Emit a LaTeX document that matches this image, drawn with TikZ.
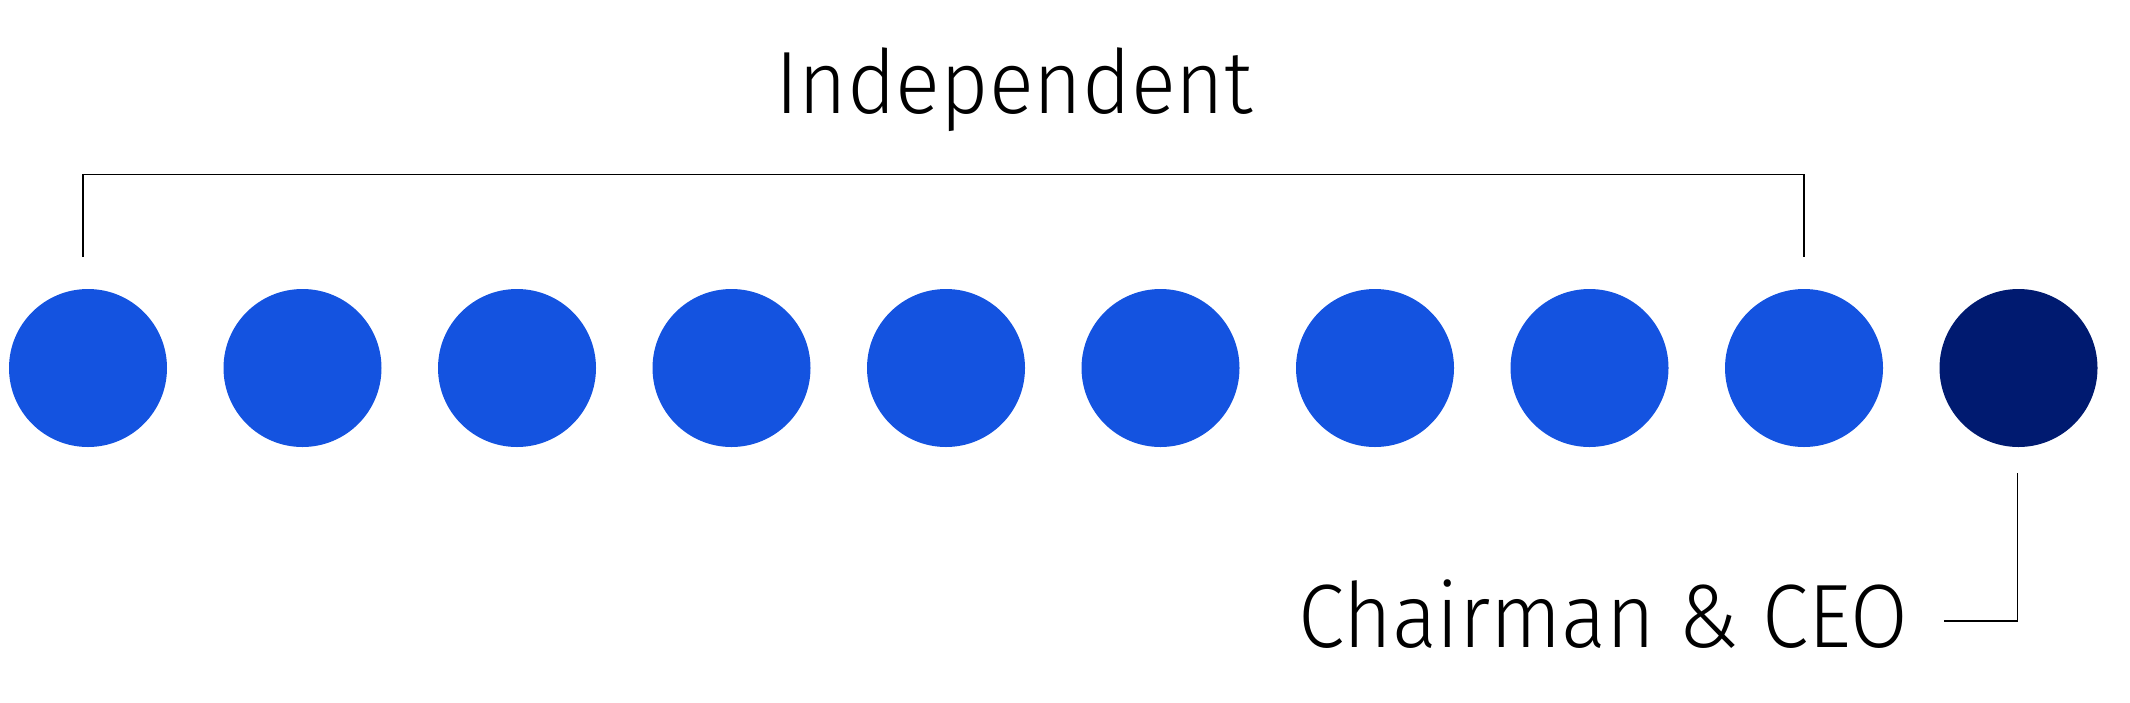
\documentclass[tikz,border=0pt]{standalone}
\usepackage{fontspec}
\usepackage{graphicx}
\setmainfont{Fira Sans Light}
\definecolor{dotblue}{HTML}{1453E0}
\definecolor{dotnavy}{HTML}{001A70}
\begin{document}
\begin{tikzpicture}[x=1pt,y=-1pt,
  member/.style={circle,fill=dotblue,minimum size=158pt,inner sep=0pt},
  chair/.style={member,fill=dotnavy},
  rule/.style={draw=black,line width=1.6pt},
  lbl/.style={inner sep=0pt,anchor=base}]
\useasboundingbox (0,0) rectangle (2130,702);
\foreach \i in {0,...,8}{
  \node[member] (m\i) at ({88+\i*214.5},368) {};
}
\node[chair] (ceo) at (2018.5,368) {};
\node[lbl] (ind) at (1014,113) {\resizebox{478pt}{\height}{\fontsize{88.5}{100}\selectfont Independent}};
\node[lbl] (chr) at (1603,647) {\resizebox{610pt}{\height}{\fontsize{90}{100}\selectfont Chairman \& CEO}};
\coordinate (bl) at (83,257);
\coordinate (br) at (1804,257);
\coordinate (cb) at (2017.5,473);
\coordinate (ce) at (1944,621);
\draw[rule] (bl) -- (83,174.5) -- (1804,174.5) -- (br);
\draw[rule] (cb) -- (2017.5,621) -- (ce);
\end{tikzpicture}
\end{document}
